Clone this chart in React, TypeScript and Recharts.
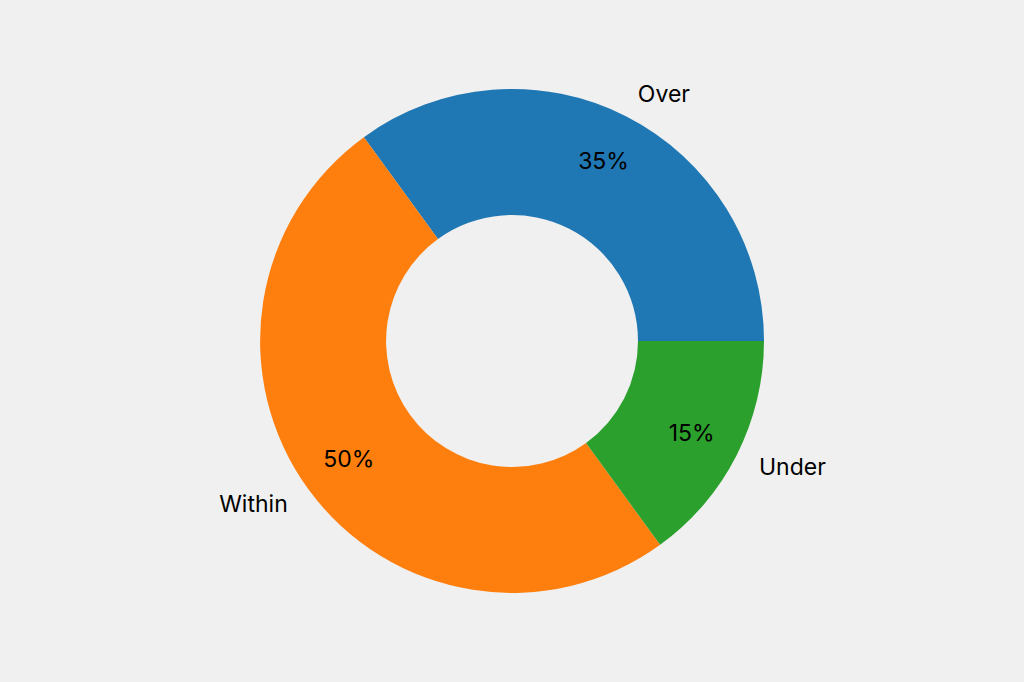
import { PieChart, Pie, Cell } from "recharts";

const categories = ["Over", "Within", "Under"];
const shares = [35, 50, 15];
const colors = ["#1f77b4", "#ff7f0e", "#2ca02c"];

const data = categories.map((name, i) => ({ name, value: shares[i] }));

const RAD = Math.PI / 180;

// matplotlib style: name at 1.1 * r, percent at 0.8 * r
function renderLabel(props: any) {
  const { cx, cy, midAngle, outerRadius, percent, name } = props;
  const cos = Math.cos(-midAngle * RAD);
  const sin = Math.sin(-midAngle * RAD);
  const nx = cx + outerRadius * 1.1 * cos;
  const ny = cy + outerRadius * 1.1 * sin;
  const px = cx + outerRadius * 0.8 * cos;
  const py = cy + outerRadius * 0.8 * sin;
  return (
    <g>
      <text
        x={nx}
        y={ny}
        textAnchor={cos >= 0 ? "start" : "end"}
        dominantBaseline="central"
        fill="#000"
        fontSize={23}
        fontFamily="Inter, sans-serif"
      >
        {name}
      </text>
      <text
        x={px}
        y={py}
        textAnchor="middle"
        dominantBaseline="central"
        fill="#000"
        fontSize={23}
        fontFamily="Inter, sans-serif"
      >
        {`${Math.round(percent * 100)}%`}
      </text>
    </g>
  );
}

export default function App() {
  return (
    <div
      style={{
        position: "fixed",
        left: 0,
        top: 0,
        width: 1024,
        height: 682,
        background: "#f0f0f0",
      }}
    >
      <PieChart width={1024} height={682} margin={{ top: 0, right: 0, bottom: 0, left: 0 }}>
        <Pie
          data={data}
          dataKey="value"
          nameKey="name"
          cx={512}
          cy={341}
          outerRadius={252}
          innerRadius={126}
          startAngle={0}
          endAngle={360}
          stroke="none"
          label={renderLabel}
          labelLine={false}
          isAnimationActive={false}
        >
          {data.map((d, i) => (
            <Cell key={d.name} fill={colors[i]} />
          ))}
        </Pie>
      </PieChart>
    </div>
  );
}
